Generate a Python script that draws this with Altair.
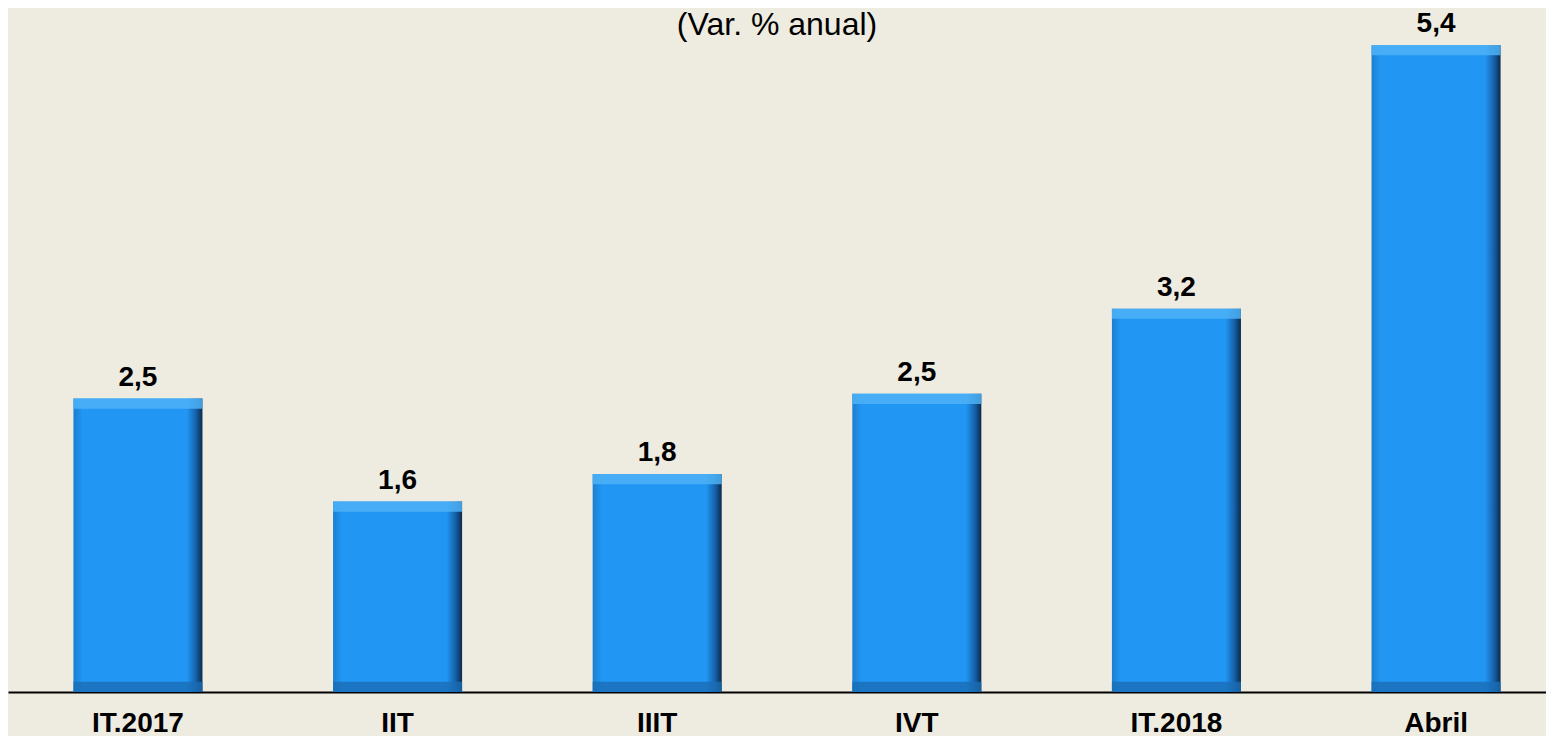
import altair as alt
import pandas as pd

categories = ["IT.2017", "IIT", "IIIT", "IVT", "IT.2018", "Abril"]
values = [2.45, 1.59, 1.82, 2.49, 3.20, 5.40]
labels = ["2,5", "1,6", "1,8", "2,5", "3,2", "5,4"]

BEVEL = 0.085
df = pd.DataFrame({"cat": categories, "val": values, "lab": labels})
df["lo"] = df["val"] - BEVEL
df["bev"] = BEVEL
df["zero"] = 0.0

FONT = "Liberation Sans"
BG = "#EEEBE1"

x = alt.X("cat:N", sort=categories, title=None,
          scale=alt.Scale(range=[0, 1558], paddingInner=0.503, paddingOuter=0.252),
          axis=alt.Axis(labelAngle=0, labelFont=FONT, labelFontSize=28, labelFontWeight="bold",
                        labelColor="#000000", labelPadding=17, ticks=False,
                        domainColor="#000000", domainWidth=2))
yscale = alt.Scale(domain=[0, 5.71], nice=False, zero=True)
y = alt.Y("val:Q", scale=yscale, axis=None)
xs = alt.X("cat:N", sort=categories)

base = alt.Chart(df)

bars = base.mark_bar(
    color=alt.Gradient(
        gradient="linear", x1=0, x2=1, y1=0, y2=0,
        stops=[
            alt.GradientStop(color="#1B7FD0", offset=0),
            alt.GradientStop(color="#2196F3", offset=0.07),
            alt.GradientStop(color="#2196F3", offset=0.88),
            alt.GradientStop(color="#1560A8", offset=0.95),
            alt.GradientStop(color="#0B2A4A", offset=1),
        ],
    )
).encode(x=x, y=y)

top_bevel = base.mark_bar(color="#4DB2F6", opacity=0.85).encode(
    x=xs, y=alt.Y("val:Q", scale=yscale, axis=None), y2="lo:Q")

bottom_bevel = base.mark_bar(color="#1A6DB5", opacity=0.8).encode(
    x=xs, y=alt.Y("bev:Q", scale=yscale, axis=None), y2="zero:Q")

text = base.mark_text(
    font=FONT, fontSize=28, fontWeight="bold", color="#000000", baseline="alphabetic", dy=-13
).encode(x=xs, y=y, text="lab:N")

chart = alt.layer(bars, top_bevel, bottom_bevel, text).properties(
    width=1538, height=684,
    background=BG,
    padding={"left": 0, "top": 0, "right": 0, "bottom": 44},
    autosize=alt.AutoSizeParams(type="none"),
    title=alt.TitleParams("(Var. % anual)", font=FONT, fontSize=32, fontWeight="normal",
                          color="#000000", anchor="middle", baseline="alphabetic", dy=63),
).configure_view(stroke=None)

chart.save("out.html", embed_options={"renderer": "svg", "actions": False})
